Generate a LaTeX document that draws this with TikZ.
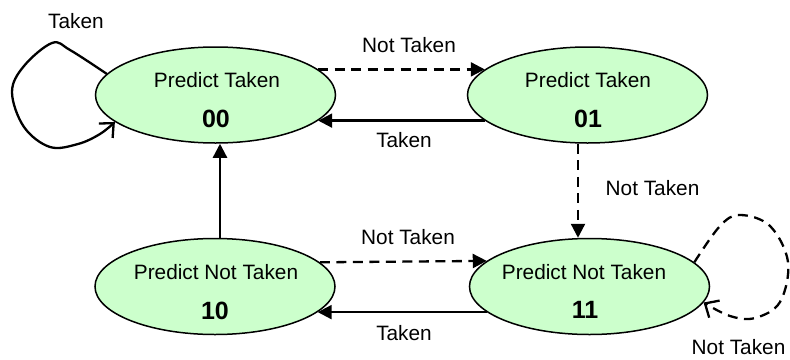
\documentclass[tikz,border=0pt]{standalone}
\usepackage{fontspec}
\setmainfont{Liberation Sans}
\usetikzlibrary{shapes.geometric,arrows.meta,calc}
\definecolor{stategreen}{HTML}{CCFFCC}
\begin{document}
\begin{tikzpicture}[x=1pt,y=-1pt,
  state/.style={ellipse,draw=black,line width=1.5pt,fill=stategreen,
    minimum width=240pt,minimum height=96pt,inner sep=0pt},
  caption/.style={font=\fontsize{20.8}{24}\selectfont,inner sep=0pt},
  code/.style={font=\fontsize{25}{28}\selectfont\bfseries,inner sep=0pt},
  edgelabel/.style={font=\fontsize{20.8}{24}\selectfont,inner sep=0pt},
  edge/.style={line width=2.3pt,-{Triangle[length=14pt,width=14pt]}},
  dashedge/.style={edge,dash pattern=on 10pt off 6.5pt},
  loopedge/.style={line width=2.3pt,-{Straight Barb[length=11pt,width=20pt]}},
]
\path[use as bounding box] (0,0) rectangle (790,359);

% the four predictor states
\node[state] (s00) at (215.5,95) {};
\node[state] (s01) at (587.5,95) {};
\node[state] (s10) at (215,286.5) {};
\node[state] (s11) at (589.5,286.5) {};

\node[caption] (t00) at (217,80.5) {Predict Taken};
\node[code]    (c00) at (216,119)  {00};
\node[caption] (t01) at (588,80)   {Predict Taken};
\node[code]    (c01) at (588,119)  {01};
\node[caption] (t10) at (216,272.5) {Predict Not Taken};
\node[code]    (c10) at (215,310.5) {10};
\node[caption] (t11) at (584,272.5) {Predict Not Taken};
\node[code]    (c11) at (585,310)   {11};

% transitions between states
\draw[dashedge] (s00.14) -- (s01.166);
\draw[edge] (s01.194) -- (s00.-14);
\draw[dashedge] (s10.13.5) -- (s11.166.5);
\draw[edge] (s11.194) -- (s10.-14);
\draw[dashedge] ($(s01.south)+(-9.5,0)$) -- ($(s11.north)+(-11.5,0)$);
\draw[edge] ($(s10.north)+(5,0)$) -- ($(s00.south)+(4.5,0)$);

% self loops
\draw[loopedge] plot[smooth,tension=0.6] coordinates
  {(s00.169) (70,50) (52,43) (24,66) (12,92) (24,127) (50,147) (78,144) (100,134) (s00.195)};
\draw[loopedge,dash pattern=on 10pt off 6.5pt] plot[smooth,tension=0.6] coordinates
  {(s11.13) (720,226) (740,215) (770,226) (788,262) (780,302) (755,318) (730,316) (s11.-8.5)};

% transition labels
\node[edgelabel] (l1) at (76,21)    {Taken};
\node[edgelabel] (l2) at (409,45.5) {Not Taken};
\node[edgelabel] (l3) at (404,140)  {Taken};
\node[edgelabel] (l4) at (652.5,188) {Not Taken};
\node[edgelabel] (l5) at (408,237)  {Not Taken};
\node[edgelabel] (l6) at (404,333)  {Taken};
\node[edgelabel] (l7) at (738.5,347) {Not Taken};
\end{tikzpicture}
\end{document}
